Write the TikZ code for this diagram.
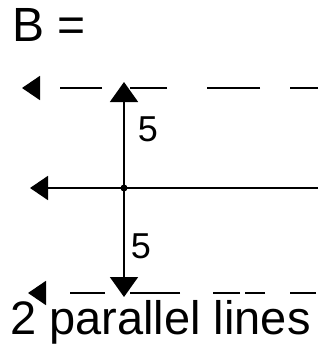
\documentclass[tikz,border=0pt]{standalone}
\usepackage{fontspec}
\setmainfont{Liberation Sans}
\usetikzlibrary{arrows.meta}
\begin{document}
\begin{tikzpicture}[x=1pt,y=-1pt,
  ln/.style={line width=1.8pt, black},
  tip/.style={-{Triangle[length=18pt,width=24pt]}},
  lbl/.style={inner sep=0pt, font=\fontsize{36}{38}\selectfont}]
\useasboundingbox (0,0) rectangle (327,354);
% coordinates
\coordinate (tr) at (318,88);
\coordinate (tl) at (22,88);
\coordinate (mr) at (318,188);
\coordinate (ml) at (30,188);
\coordinate (br) at (316,293);
\coordinate (bl) at (28,293);
\coordinate (vt) at (124,82);
\coordinate (vb) at (124,297);
\coordinate (c) at (124,188);
% title
\node[inner sep=0pt, anchor=base west, font=\fontsize{48}{50}\selectfont] (title) at (12,41) {B =};
% top dashed line
\draw[ln, tip, dash pattern=on 28pt off 30pt on 53pt off 40pt on 37pt off 28pt on 42pt off 40pt] (tr) -- (tl);
% middle solid line
\draw[ln, tip] (mr) -- (ml);
% bottom dashed line
\draw[ln, tip, dash pattern=on 26pt off 25pt on 20pt off 5pt on 27pt off 33pt on 50pt off 25pt on 35pt off 40pt] (br) -- (bl);
% vertical double arrow
\draw[ln, {Triangle[length=20pt,width=28pt]}-{Triangle[length=20pt,width=28pt]}] (vt) -- (vb);
\fill (c) circle (3.5pt);
% labels
\node[lbl] (five1) at (148,129) {5};
\node[lbl] (five2) at (141,246) {5};
\node[inner sep=0pt, anchor=base west, font=\fontsize{47}{49}\selectfont] (caption) at (10,334) {2 parallel lines};
\end{tikzpicture}
\end{document}
